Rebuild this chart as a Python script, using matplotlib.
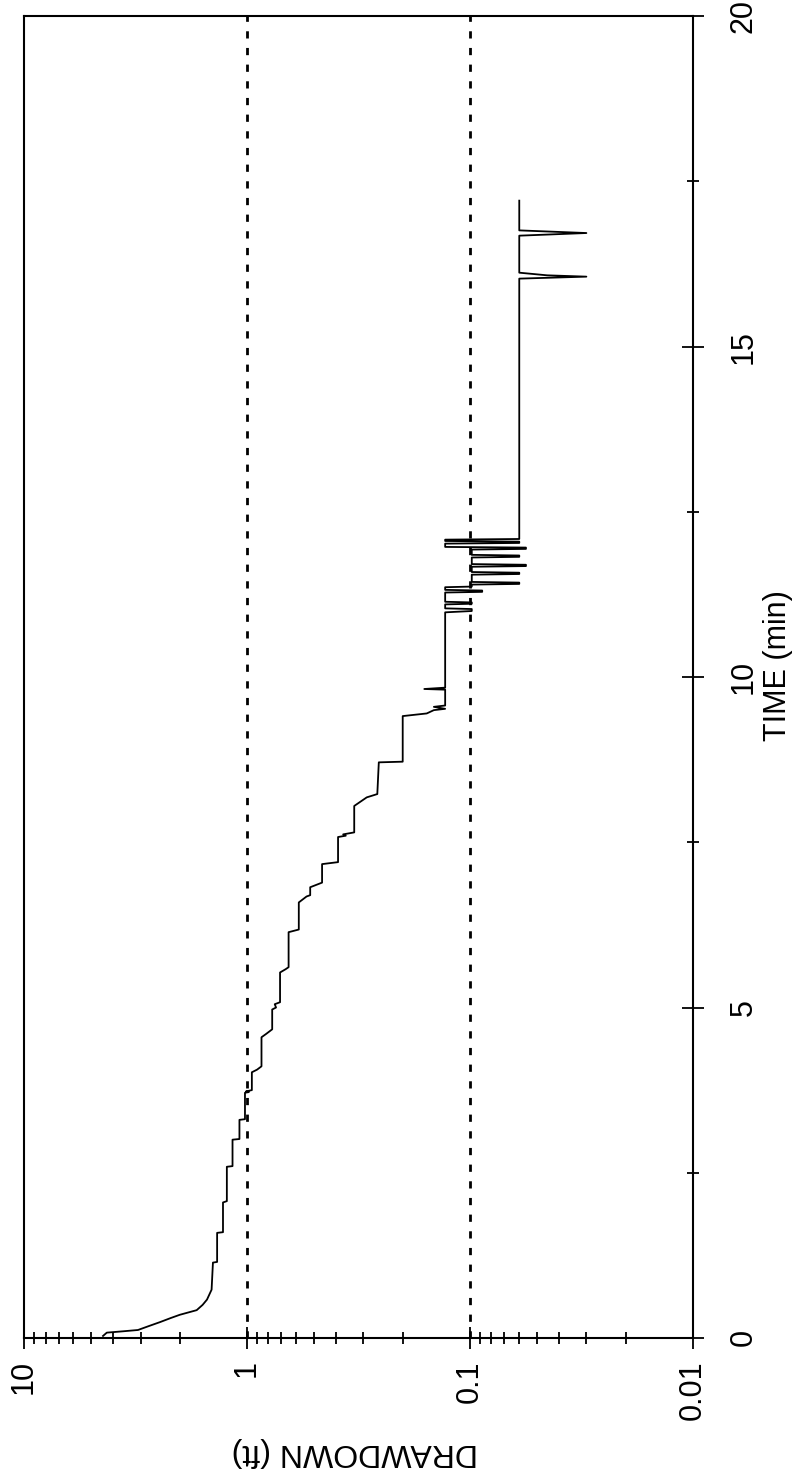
import matplotlib
matplotlib.use('Agg')
import matplotlib.pyplot as plt
from matplotlib.ticker import LogLocator, FixedLocator, MultipleLocator, FuncFormatter, NullFormatter

plt.rcParams['font.family'] = ['Liberation Sans', 'DejaVu Sans']

# pumping test record: time since start (min) vs drawdown (ft)
time_min = [0.03, 0.08, 0.10, 0.12, 0.18, 0.24, 0.30, 0.35, 0.42, 0.50, 0.58, 0.73,
            1.14, 1.15, 1.59, 1.60, 2.05, 2.07, 2.59, 2.60, 3.00, 3.01, 3.30, 3.31,
            3.71, 3.72, 3.73, 3.75, 4.02, 4.06, 4.11, 4.55, 4.60, 4.67, 4.97, 5.00,
            5.05, 5.08, 5.53, 5.58, 5.61, 6.14, 6.18, 6.59, 6.68, 6.70, 6.82, 6.89,
            7.17, 7.20, 7.58, 7.60, 7.62, 7.65, 8.05, 8.18, 8.23, 8.71, 8.72, 9.41,
            9.45, 9.50, 9.52, 9.55, 9.57, 9.81, 9.82, 9.84, 10.98,
            11.00, 11.03, 11.04, 11.10, 11.11, 11.13, 11.14, 11.28, 11.29, 11.31,
            11.32, 11.36, 11.37, 11.40, 11.41, 11.43, 11.44, 11.55, 11.56, 11.58,
            11.59, 11.67, 11.68, 11.70, 11.71, 11.81, 11.82, 11.84, 11.85, 11.93,
            11.94, 11.96, 11.97, 12.02, 12.03, 12.05, 12.06, 12.08, 12.09,
            16.03, 16.06, 16.08, 16.12, 16.68, 16.72, 16.76, 17.21]
drawdown_ft = [4.42, 4.25, 3.6, 3.08, 2.75, 2.45, 2.2, 2.0, 1.68, 1.58, 1.51, 1.44,
               1.42, 1.36, 1.36, 1.28, 1.28, 1.23, 1.23, 1.16, 1.16, 1.08, 1.08, 1.02,
               1.02, 0.98, 1.01, 0.95, 0.95, 0.90, 0.86, 0.86, 0.82, 0.77, 0.77, 0.74,
               0.75, 0.71, 0.71, 0.67, 0.65, 0.65, 0.585, 0.585, 0.54, 0.52, 0.52, 0.46,
               0.46, 0.39, 0.39, 0.36, 0.37, 0.33, 0.33, 0.29, 0.26, 0.256, 0.20, 0.20,
               0.156, 0.145, 0.129, 0.145, 0.129, 0.129, 0.16, 0.129, 0.129,
               0.098, 0.098, 0.129, 0.129, 0.098, 0.098, 0.129, 0.129, 0.088, 0.088,
               0.129, 0.129, 0.098, 0.098, 0.06, 0.06, 0.098, 0.098, 0.06, 0.06,
               0.098, 0.098, 0.056, 0.056, 0.098, 0.098, 0.06, 0.06, 0.098, 0.098,
               0.056, 0.056, 0.129, 0.129, 0.06, 0.06, 0.129, 0.129, 0.06,
               0.06, 0.03, 0.045, 0.06, 0.06, 0.03, 0.06, 0.06]

ref_levels = [1, 0.1]
dd_ticks = [10, 1, 0.1, 0.01]
time_ticks = [0, 5, 10, 15, 20]

fig = plt.figure(figsize=(7.99, 14.80), dpi=100)
ax = fig.add_axes([0.030, 0.096, 0.837, 0.893])

# chart is drawn "sideways": drawdown runs left-right, time runs bottom-top
ax.plot(drawdown_ft, time_min, color='black', lw=1.3)
for lev in ref_levels:
    ax.axvline(lev, color='black', lw=2.0, linestyle=(0, (2.6, 3.4)))

ax.set_xscale('log')
ax.set_xlim(10, 0.01)
ax.set_ylim(0, 20)

ax.xaxis.set_major_locator(FixedLocator(dd_ticks))
ax.xaxis.set_minor_locator(LogLocator(base=10, subs=range(2, 10)))
ax.xaxis.set_major_formatter(FuncFormatter(lambda v, p: '%g' % v))
ax.xaxis.set_minor_formatter(NullFormatter())

ax.yaxis.tick_right()
ax.yaxis.set_label_position('right')
ax.yaxis.set_major_locator(FixedLocator(time_ticks))
ax.yaxis.set_minor_locator(MultipleLocator(2.5))

ax.tick_params(which='major', direction='inout', length=16, width=1.3, colors='black')
ax.tick_params(which='minor', direction='inout', length=9, width=1.3)
ax.tick_params(axis='x', which='major', labelsize=22, labelrotation=90, pad=8)
ax.tick_params(axis='y', which='major', labelsize=22, labelrotation=90, pad=18)
for lbl in ax.get_xticklabels():
    lbl.set_va('top')
for lbl in ax.get_yticklabels():
    lbl.set_va('center')

for sp in ax.spines.values():
    sp.set_linewidth(1.5)

ax.set_ylabel('TIME (min)', fontsize=22, rotation=90, va='center', ha='center')
ax.yaxis.set_label_coords(1.127, 0.509)
ax.set_xlabel('DRAWDOWN (ft)', fontsize=23, rotation=180, va='center', ha='center')
ax.xaxis.set_label_coords(0.495, -0.086)

fig.savefig('out.png', dpi=100)
